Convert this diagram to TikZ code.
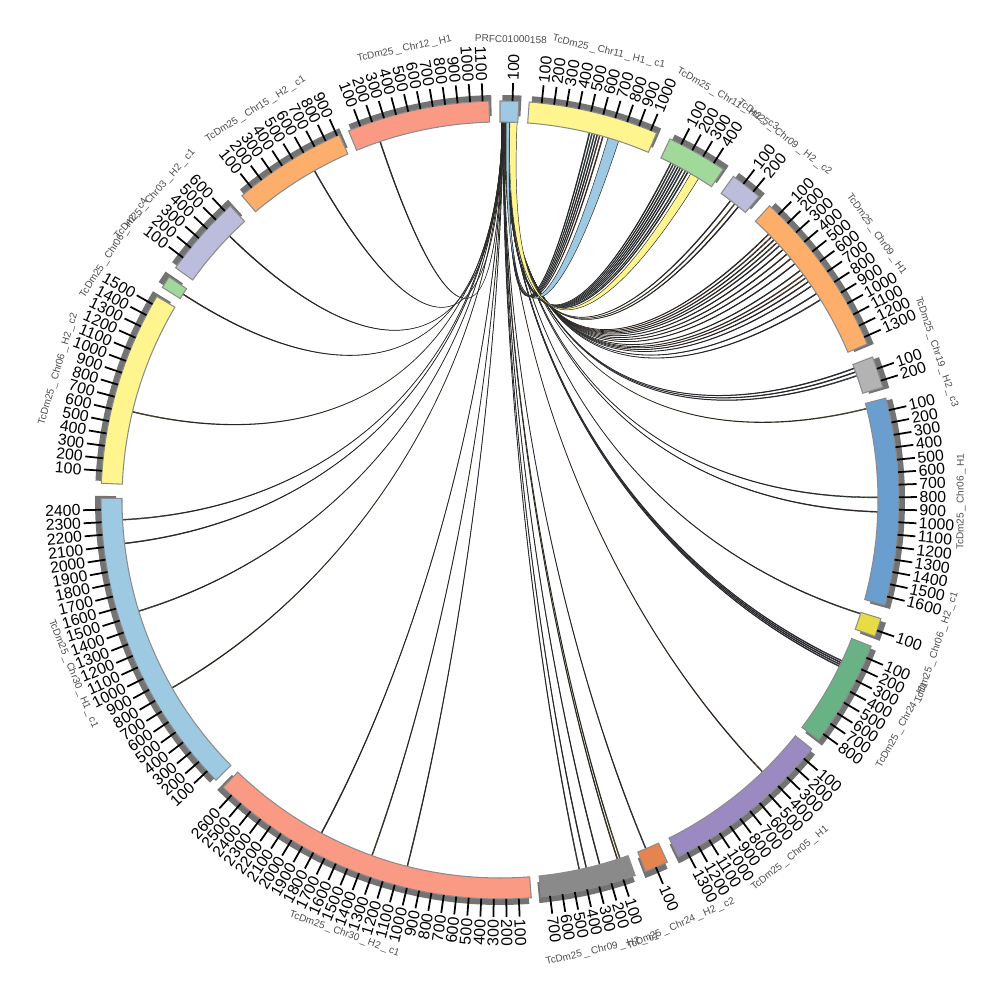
\documentclass[tikz,border=0pt]{standalone}
\usepackage{fontspec}
\setmainfont{Liberation Sans}
\usepackage{tikz}
\definecolor{segPRFC}{HTML}{9DC9E2}
\definecolor{segYel}{HTML}{FFF58F}
\definecolor{segGrn}{HTML}{A1D99B}
\definecolor{segLav}{HTML}{BCBDDC}
\definecolor{segOra}{HTML}{FDAE6B}
\definecolor{segGry}{HTML}{B3B3B3}
\definecolor{segBlu}{HTML}{6A9ECF}
\definecolor{segYlw}{HTML}{E7DC45}
\definecolor{segGrd}{HTML}{69B285}
\definecolor{segPur}{HTML}{9A8AC1}
\definecolor{segRed}{HTML}{E6834F}
\definecolor{segDrk}{HTML}{8A8A8A}
\definecolor{segSal}{HTML}{FA9A85}
\definecolor{cdblue}{HTML}{2E4A7A}
\definecolor{cgreen}{HTML}{4E8A5A}
\definecolor{cslate}{HTML}{5A7896}
\definecolor{corange}{HTML}{E08040}
\definecolor{cbrown}{HTML}{8B4A2B}
\definecolor{colive}{HTML}{8C8A30}
\definecolor{clblue}{HTML}{8CC0E0}
\definecolor{cpurple}{HTML}{7E74B5}
\definecolor{cdark}{HTML}{333333}
\definecolor{cyel}{HTML}{D8CF40}
\tikzset{
  ideo/.style={draw=black!45, line width=0.3pt},
  shadowband/.style={fill=black!55},
  tickmark/.style={line width=0.5pt},
  ticklab/.style={font=\fontsize{4.5}{5}\selectfont, inner sep=0pt},
  seglab/.style={font=\fontsize{2.85}{3}\selectfont, text=black!70, inner sep=0pt},
  link/.style={draw=black!85, line width=0.13pt},
}
\newcommand\us{\kern0.2em\_\kern0.2em}
\def\rin{3.78}
\def\rc{1.5}
% ribbon: source from #1 to #2, target from #3 to #4 (degrees clockwise from top)
\newcommand\lnk[5]{%
  \pgfmathsetmacro\pa{90-(#1)}\pgfmathsetmacro\pb{90-(#2)}%
  \pgfmathsetmacro\pc{90-(#3)}\pgfmathsetmacro\pd{90-(#4)}%
  \filldraw[link, fill=#5] (\pa:\rin) arc[start angle=\pa, end angle=\pb, radius=\rin]
    .. controls (\pb:\rc) and (\pc:\rc) .. (\pc:\rin)
    arc[start angle=\pc, end angle=\pd, radius=\rin]
    .. controls (\pd:\rc) and (\pa:\rc) .. (\pa:\rin) -- cycle;}
\begin{document}
\begin{tikzpicture}[x=1cm,y=1cm]
\useasboundingbox (-5,-5) rectangle (5,5);
% links from PRFC01000158
\foreach \tg/\lc [count=\i] in {13.7/cdblue,14.1/cgreen,14.5/cslate,14.9/cdblue,15.3/corange,15.8/cbrown,
  26.9/cslate,27.3/colive,27.7/clblue,28.1/cdblue,28.5/cpurple,28.9/cgreen,29.4/clblue,29.8/cdark,
  37.6/cbrown,38.4/cyel,39.1/cdark,
  45.3/cbrown,45.9/corange,46.5/cbrown,47.1/colive,47.7/cpurple,48.5/cdark,49.4/cbrown,50.3/cbrown,
  51.3/cdark,52.6/cgreen,53.4/corange,54.0/corange,54.7/cdark,55.5/cpurple,56.9/cdblue,58.0/cslate,
  69.6/cdblue,70.2/cdark,70.8/cslate,76.0/cyel,89.6/cgreen,91.8/cdark,107.5/cgreen,
  115.2/cpurple,115.5/cdblue,115.8/cpurple,116.1/cslate,136.0/corange,157.3/cslate,
  161.5/cyel,161.9/cbrown,164.7/cdark,166.8/cdark,167.9/cslate,
  194.2/cdblue,199.8/colive,208.2/cdark,240.2/colive,252.9/cslate,263.4/cdark,267.0/cslate,
  283.5/colive,303.0/cbrown,314.3/cdark,330.6/cbrown,341.5/cdark}{%
  \pgfmathsetmacro\sa{1.47-\i*0.019}%
  \lnk{\sa-0.03}{\sa+0.03}{\tg-0.07}{\tg+0.07}{\lc}}
\lnk{0.95}{1.45}{16.6}{18.3}{segPRFC}
\lnk{1.5}{2.6}{30.3}{31.7}{segYel}
% ideogram with ticks
\foreach \st/\len/\col/\nm [count=\i] in {0.0/150/segPRFC/PRFC01000158,
  4.2/1050/segYel/TcDm25\us Chr11\us H1\us c1,
  25.2/490/segGrn/TcDm25\us Chr11\us H2\us c3,
  35.8/260/segLav/TcDm25\us Chr09\us H2\us c2,
  42.5/1360/segOra/TcDm25\us Chr09\us H1,
  69.0/255/segGry/TcDm25\us Chr19\us H2\us c3,
  75.2/1670/segBlu/TcDm25\us Chr06\us H1,
  107.3/150/segYlw/TcDm25\us Chr06\us H2\us c1,
  111.5/860/segGrd/TcDm25\us Chr24\us H1,
  128.6/1380/segPur/TcDm25\us Chr05\us H1,
  155.2/190/segRed/TcDm25\us Chr24\us H2\us c2,
  160.2/770/segDrk/TcDm25\us Chr09\us H2\us c1,
  175.5/2690/segSal/TcDm25\us Chr30\us H2\us c1,
  225.4/2490/segPRFC/TcDm25\us Chr30\us H1\us c1,
  272.4/1570/segYel/TcDm25\us Chr06\us H2\us c2,
  302.2/99/segGrn/TcDm25\us Chr06\us H2\us c4,
  305.6/660/segLav/TcDm25\us Chr03\us H2\us c1,
  319.7/920/segOra/TcDm25\us Chr15\us H2\us c1,
  337.7/1150/segSal/TcDm25\us Chr12\us H1}{%
  \pgfmathsetmacro\en{\st+\len*0.018}%
  \pgfmathsetmacro\pa{90-\st}\pgfmathsetmacro\pb{90-\en}%
  \pgfmathsetmacro\qa{\pa-0.35}\pgfmathsetmacro\qb{\pb-0.35}%
  \fill[shadowband] (\qa:3.84) arc[start angle=\qa, end angle=\qb, radius=3.84]
    -- (\qb:4.05) arc[start angle=\qb, end angle=\qa, radius=4.05] -- cycle;
  \filldraw[ideo, fill=\col] (\pa:3.78) arc[start angle=\pa, end angle=\pb, radius=3.78]
    -- (\pb:3.99) arc[start angle=\pb, end angle=\pa, radius=3.99] -- cycle;
  \pgfmathtruncatemacro\nt{\len/100}%
  \ifnum\nt>0
  \foreach \k in {1,...,\nt}{%
    \pgfmathsetmacro\ta{\st+\k*1.8}%
    \pgfmathsetmacro\tb{90-\ta}%
    \pgfmathtruncatemacro\tv{\k*100}%
    \draw[tickmark] (\tb:3.99) -- (\tb:4.17);
    \ifdim\ta pt<180pt
      \node[ticklab, rotate=\tb, anchor=west] (tl\k) at (\tb:4.19) {\tv};
    \else
      \node[ticklab, rotate=\tb+180, anchor=east] (tl\k) at (\tb:4.19) {\tv};
    \fi}
  \fi
  \pgfmathsetmacro\md{(\st+\en)/2}%
  \pgfmathsetmacro\mr{(\md>90 && \md<270) ? 180-\md : -\md}%
  \node[seglab, rotate=\mr] (seg\i) at ({90-\md}:4.61) {\nm};
}
\end{tikzpicture}
\end{document}
